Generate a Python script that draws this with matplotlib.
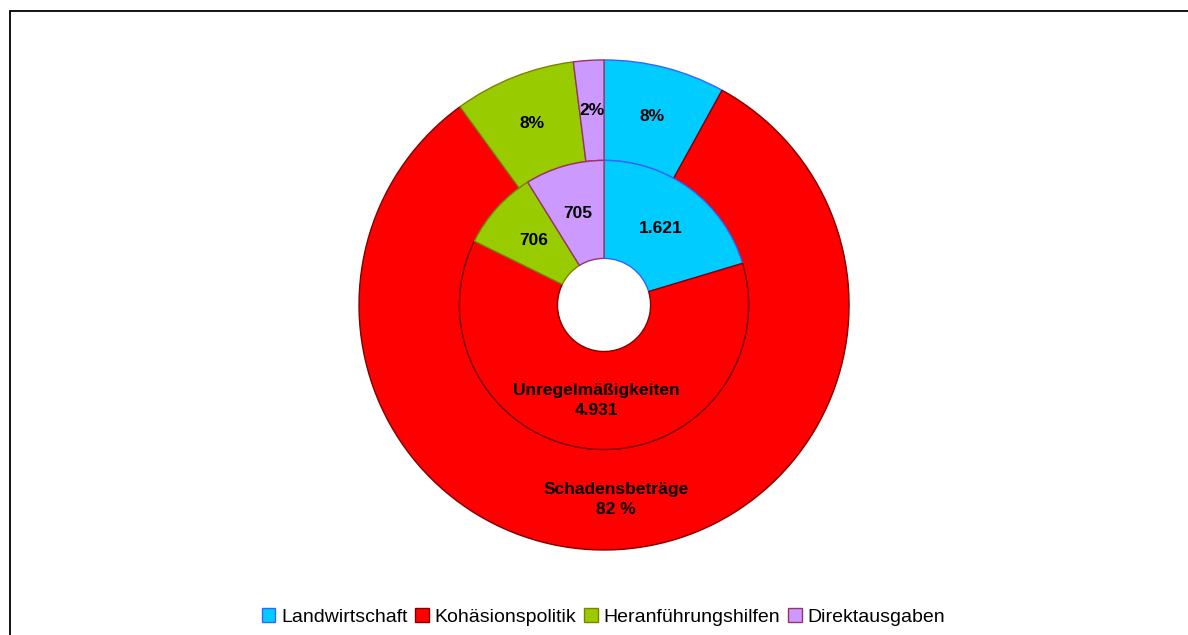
import numpy as np
import matplotlib
matplotlib.use('Agg')
import matplotlib.pyplot as plt
from matplotlib.patches import Patch, Rectangle

plt.rcParams['font.family'] = ['Liberation Sans', 'DejaVu Sans']

# data
categories = ['Landwirtschaft', 'Kohäsionspolitik', 'Heranführungshilfen', 'Direktausgaben']
inner_values = [1621, 4931, 706, 705]          # Unregelmäßigkeiten (Anzahl)
outer_values = [8, 82, 8, 2]                    # Schadensbeträge (%)
inner_labels = ['1.621', 'Unregelmäßigkeiten\n4.931', '706', '705']
outer_labels = ['8%', 'Schadensbeträge\n82 %', '8%', '2%']

colors = ['#00CCFF', '#FF0000', '#99CC00', '#CC99FF']
edges = ['#3366FF', '#800000', '#808000', '#993366']

fig = plt.figure(figsize=(11.88, 6.35), dpi=100)
ax = fig.add_axes([0.3022, 0.1339, 0.4125, 0.7717])

r_out, w_out = 1.0, 0.41
r_in, w_in = 0.59, 0.40

outer, _ = ax.pie(outer_values, radius=r_out, startangle=90, counterclock=False,
                  colors=colors, wedgeprops=dict(width=w_out, linewidth=1))
inner, _ = ax.pie(inner_values, radius=r_in, startangle=90, counterclock=False,
                  colors=colors, wedgeprops=dict(width=w_in, linewidth=1))

for wl, lbls, r in [(outer, outer_labels, r_out - w_out / 2), (inner, inner_labels, r_in - w_in / 2)]:
    for w, e, lab in zip(wl, edges, lbls):
        w.set_edgecolor(e)
        ang = np.deg2rad((w.theta1 + w.theta2) / 2)
        ax.text(r * np.cos(ang), r * np.sin(ang), lab, ha='center', va='center',
                fontsize=12.5, fontweight='bold', linespacing=1.4)

ax.set_xlim(-1, 1)
ax.set_ylim(-1, 1)
ax.set_aspect('equal')
ax.axis('off')

handles = [Patch(facecolor=c, edgecolor=e, label=l) for c, e, l in zip(colors, edges, categories)]
fig.legend(handles=handles, loc='center', bbox_to_anchor=(0.508, 0.028), ncol=4, frameon=False,
           fontsize=14, handlelength=0.7, handleheight=0.7, handletextpad=0.3, columnspacing=0.4)

# chart frame
fig.add_artist(Rectangle((0.0084, -0.1), 1.2, 1.0827, transform=fig.transFigure,
                         fill=False, lw=1.3, ec='black'))

fig.savefig('out.png', dpi=100)
